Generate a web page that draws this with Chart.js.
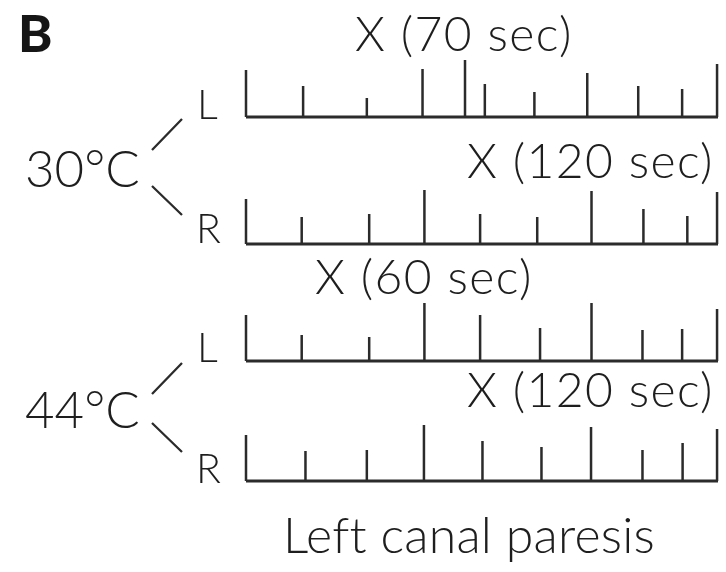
<!DOCTYPE html>
<html>
<head>
<meta charset="utf-8">
<script src="https://cdn.jsdelivr.net/npm/chart.js@4/dist/chart.umd.min.js"></script>
<style>
  html, body { margin: 0; padding: 0; background: #ffffff; }
  #wrap { position: relative; width: 726px; height: 572px; overflow: hidden; }
  #chart { position: absolute; left: 0; top: 0; }
  .lbl { position: absolute; white-space: nowrap; line-height: 1; color: #1e1e1e;
         font-family: Lato, "Open Sans", "DejaVu Sans", sans-serif; font-weight: 300; }
</style>
</head>
<body>
<div id="wrap">
  <canvas id="chart" width="726" height="572"></canvas>
</div>
<script>
// ---- Data ----
// Rows: 30°C L, 30°C R, 44°C L, 44°C R
const rowNames = ["30°C L", "30°C R", "44°C L", "44°C R"];
const rowLabels = ["X (70 sec)", "X (120 sec)", "X (60 sec)", "X (120 sec)"];
// beat (tick) positions along the recording, 0–100
const beats30L = [0, 12.1, 25.6, 37.4, 46.4, 50.6, 61.1, 72.3, 83.1, 92.4, 99.8];
const beats30R = [0, 11.8, 26.1, 37.8, 49.6, 61.7, 73.2, 84.2, 93.5, 99.8];
const beats44L = [0, 11.8, 26.1, 37.8, 49.6, 62.3, 73.2, 84.0, 92.4, 99.8];
const beats44R = [0, 12.6, 25.6, 37.7, 50.1, 62.6, 73.1, 84.0, 92.5, 99.8];
// beat amplitudes (tick heights)
const amp30L = [47, 31, 19, 48, 57, 33, 25, 44, 31, 28, 53];
const amp30R = [45, 27, 30, 54, 30, 27, 53, 35, 28, 52];
const amp44L = [46, 26, 24, 58, 46, 33, 58, 31, 32, 52];
const amp44R = [46, 30, 31, 56, 40, 34, 54, 31, 38, 52];
const tempLabels = ["30°C", "44°C"];
const sideLabels = ["L", "R"];
const panelLabel = "B";
const footLabel = "Left canal paresis";

// ---- Layout (not data) ----
const INK = "#2b2b2b";
const rowBase = [455, 328, 211, 91];   // baseline of each row on the y scale
const beats = [beats30L, beats30R, beats44L, beats44R];
const amps = [amp30L, amp30R, amp44L, amp44R];

const datasets = [];
beats.forEach((bx, r) => {
  const pts = [];
  bx.forEach((x, i) => {
    pts.push({x: x, y: rowBase[r]});
    pts.push({x: x, y: rowBase[r] + amps[r][i]});
    pts.push({x: x, y: null});
  });
  datasets.push({
    label: rowNames[r] + " beats", data: pts, borderColor: INK, borderWidth: 2.5,
    pointRadius: 0, spanGaps: false, borderCapStyle: "butt", tension: 0, clip: false
  });
  datasets.push({
    label: rowNames[r] + " baseline", data: [{x: 0, y: rowBase[r]}, {x: 100, y: rowBase[r]}],
    borderColor: INK, borderWidth: 3, pointRadius: 0, borderCapStyle: "butt", clip: false
  });
});

// branch lines from temperature label to L / R
const branchPlugin = {
  id: "branches",
  afterDatasetsDraw(chart) {
    const ctx = chart.ctx;
    const ys = chart.scales.y;
    ctx.save();
    ctx.strokeStyle = INK;
    ctx.lineWidth = 2.3;
    ctx.lineCap = "butt";
    [0, 2].forEach(r => {
      const yL = ys.getPixelForValue(rowBase[r]);
      const yR = ys.getPixelForValue(rowBase[r + 1]);
      ctx.beginPath();
      ctx.moveTo(152, yL + 33); ctx.lineTo(182, yL + 2);
      ctx.moveTo(152, yR - 58); ctx.lineTo(182, yR - 29);
      ctx.stroke();
    });
    ctx.restore();
  }
};

new Chart(document.getElementById("chart"), {
  type: "line",
  data: { datasets: datasets },
  options: {
    responsive: false, animation: false, devicePixelRatio: 1,
    layout: { padding: { left: 246, right: 8, top: 0, bottom: 0 } },
    plugins: { legend: { display: false }, tooltip: { enabled: false }, title: { display: false } },
    scales: {
      x: { type: "linear", min: 0, max: 100, display: false },
      y: { type: "linear", min: 0, max: 572, display: false }
    }
  },
  plugins: [branchPlugin]
});

// ---- Text labels (real text) ----
const wrap = document.getElementById("wrap");
function addText(txt, left, baseline, size, weight, extra) {
  const d = document.createElement("div");
  d.className = "lbl";
  d.textContent = txt;
  d.style.left = left + "px";
  d.style.top = (baseline - 0.887 * size) + "px";
  d.style.fontSize = size + "px";
  if (weight) d.style.fontWeight = weight;
  if (extra) Object.assign(d.style, extra);
  wrap.appendChild(d);
}
const xs = {letterSpacing: "1.4px"};
addText(panelLabel, 18, 52, 52, 900, {color: "#161616"});
addText(rowLabels[0], 355, 52, 48, null, xs);
addText(rowLabels[1], 467, 179, 48, null, xs);
addText(rowLabels[2], 315, 295, 48, null, xs);
addText(rowLabels[3], 467, 408, 48, null, xs);
addText(tempLabels[0], 25, 187, 51);
addText(tempLabels[1], 25, 428, 51);
addText(sideLabels[0], 197, 119, 41);
addText(sideLabels[1], 196, 243, 41);
addText(sideLabels[0], 197, 362, 41);
addText(sideLabels[1], 196, 483, 41);
addText(footLabel, 283, 553, 50, null, {letterSpacing: "0.2px"});
</script>
</body>
</html>
